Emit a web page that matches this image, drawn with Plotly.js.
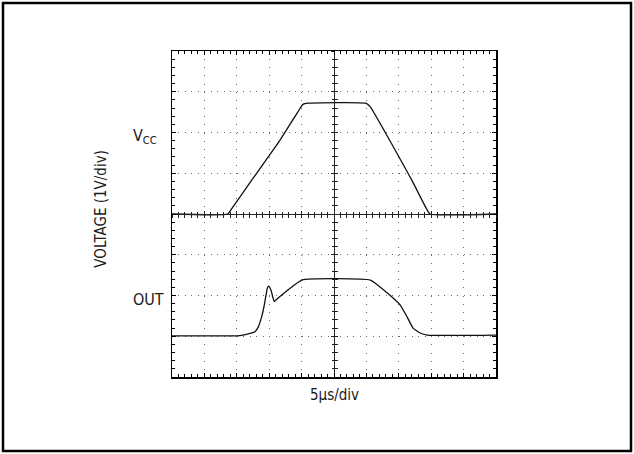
<!DOCTYPE html>
<html>
<head>
<meta charset="utf-8">
<script src="https://cdn.plot.ly/plotly-3.0.1.min.js"></script>
<style>
  html, body { margin: 0; padding: 0; background: #fff; }
  #chart { width: 634px; height: 454px; }
</style>
</head>
<body>
<div id="chart"></div>
<script>
// Time in microseconds (5 µs/div), voltage in divisions (1 V/div), screen centre = 0
const vccTime = [0, 8.6, 9.3, 12.3, 16.7, 19.4, 20.2, 21.0, 29.9, 30.6, 37.0, 39.2, 39.8, 50];
const vccVolt = [0, 0, 0.15, 0.83, 1.82, 2.5, 2.69, 2.72, 2.72, 2.63, 0.83, 0.15, 0, 0];

const outTime = [0, 10.0, 10.96, 12.04, 12.81, 13.32, 13.84, 14.2, 14.51, 14.71, 14.92, 15.28, 15.54, 15.79, 16.16, 20.06, 30.6, 32.1, 33.6, 35.2, 36.3, 37.2, 38.3, 39.4, 50];
const outVolt = [-2.99, -2.99, -2.97, -2.93, -2.89, -2.77, -2.52, -2.27, -1.99, -1.82, -1.77, -1.87, -2.03, -2.15, -2.09, -1.62, -1.62, -1.79, -1.99, -2.23, -2.53, -2.8, -2.92, -2.97, -2.97];

const traceLabels = ['V<sub>CC</sub>', 'OUT'];
const xTitle = '5µs/div';
const yTitle = 'VOLTAGE (1V/div)';

const FONT = '"Liberation Sans Narrow", "DejaVu Sans Condensed", "Arial Narrow", sans-serif';
const TXT = '#1a1a1a';

const lineStyle = { color: '#111', width: 1.3, shape: 'spline', smoothing: 0.4 };

const data = [
  { x: vccTime, y: vccVolt, type: 'scatter', mode: 'lines', line: lineStyle, hoverinfo: 'skip', showlegend: false },
  { x: outTime, y: outVolt, type: 'scatter', mode: 'lines', line: lineStyle, hoverinfo: 'skip', showlegend: false },
  { x: [], y: [], xaxis: 'x2', yaxis: 'y2', type: 'scatter', mode: 'lines', showlegend: false, hoverinfo: 'skip' },
  { x: [], y: [], xaxis: 'x3', yaxis: 'y3', type: 'scatter', mode: 'lines', showlegend: false, hoverinfo: 'skip' }
];

const baseX = {
  range: [0, 50], dtick: 5, tick0: 0, zeroline: false, showticklabels: false, fixedrange: true
};
const baseY = {
  range: [-4, 4], dtick: 1, tick0: 0, zeroline: false, showticklabels: false, fixedrange: true
};

const layout = {
  width: 634, height: 454,
  margin: { l: 172, r: 138, t: 51, b: 77 },
  paper_bgcolor: '#fff', plot_bgcolor: '#fff',
  showlegend: false,
  xaxis: Object.assign({}, baseX, {
    showgrid: true, gridcolor: '#6a6a6a', gridwidth: 1, griddash: '1px,7.15px',
    showline: true, linecolor: '#000', linewidth: 1.5, mirror: 'allticks',
    ticks: 'inside', ticklen: 4, tickcolor: '#000', tickwidth: 1,
    minor: { ticks: 'inside', dtick: 1, ticklen: 3, tickcolor: '#000', showgrid: false }
  }),
  yaxis: Object.assign({}, baseY, {
    showgrid: true, gridcolor: '#6a6a6a', gridwidth: 1, griddash: '1px,5.48px',
    showline: true, linecolor: '#000', linewidth: 1.5, mirror: 'allticks',
    ticks: 'inside', ticklen: 4, tickcolor: '#000', tickwidth: 1,
    minor: { ticks: 'inside', dtick: 0.2, ticklen: 3, tickcolor: '#000', showgrid: false }
  }),
  xaxis2: Object.assign({}, baseX, {
    overlaying: 'x', anchor: 'free', position: 0.5, showgrid: false,
    showline: true, linecolor: '#222', linewidth: 1,
    ticks: 'outside', ticklen: 3, tickcolor: '#222',
    minor: { ticks: 'outside', dtick: 1, ticklen: 2.5, tickcolor: '#222', showgrid: false }
  }),
  xaxis3: Object.assign({}, baseX, {
    overlaying: 'x', anchor: 'free', position: 0.5, showgrid: false,
    showline: false,
    ticks: 'inside', ticklen: 3, tickcolor: '#222',
    minor: { ticks: 'inside', dtick: 1, ticklen: 2.5, tickcolor: '#222', showgrid: false }
  }),
  yaxis2: Object.assign({}, baseY, {
    overlaying: 'y', anchor: 'free', position: 0.5, side: 'left', showgrid: false,
    showline: true, linecolor: '#222', linewidth: 1,
    ticks: 'outside', ticklen: 3, tickcolor: '#222',
    minor: { ticks: 'outside', dtick: 0.2, ticklen: 2.5, tickcolor: '#222', showgrid: false }
  }),
  yaxis3: Object.assign({}, baseY, {
    overlaying: 'y', anchor: 'free', position: 0.5, side: 'left', showgrid: false,
    showline: false,
    ticks: 'inside', ticklen: 3, tickcolor: '#222',
    minor: { ticks: 'inside', dtick: 0.2, ticklen: 2.5, tickcolor: '#222', showgrid: false }
  }),
  annotations: [
    { text: traceLabels[0], xref: 'paper', yref: 'paper', x: -0.1265, y: 0.739,
      xanchor: 'left', yanchor: 'middle', showarrow: false, font: { family: FONT, size: 16, color: TXT } },
    { text: traceLabels[1], xref: 'paper', yref: 'paper', x: -0.1265, y: 0.238,
      xanchor: 'left', yanchor: 'middle', showarrow: false, font: { family: FONT, size: 16, color: TXT } },
    { text: xTitle, xref: 'paper', yref: 'paper', x: 0.503, y: -0.0567,
      xanchor: 'center', yanchor: 'middle', showarrow: false, font: { family: FONT, size: 15, color: TXT } },
    { text: yTitle, xref: 'paper', yref: 'paper', x: -0.2176, y: 0.518, textangle: -90,
      xanchor: 'center', yanchor: 'middle', showarrow: false, font: { family: FONT, size: 15, color: TXT } }
  ],
  shapes: [
    { type: 'rect', xref: 'paper', yref: 'paper', x0: -0.5216, x1: 1.4167, y0: -0.227, y1: 1.1472,
      line: { color: '#000', width: 2.5 }, fillcolor: 'rgba(0,0,0,0)', layer: 'above' }
  ]
};

Plotly.newPlot('chart', data, layout, { displayModeBar: false, staticPlot: true });
</script>
</body>
</html>
